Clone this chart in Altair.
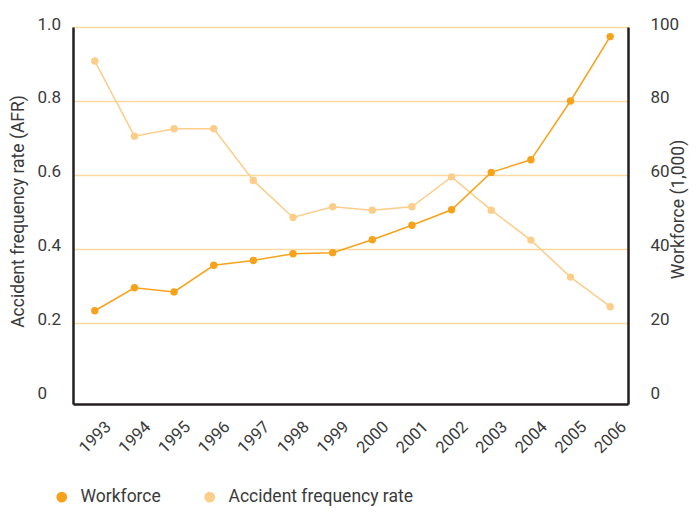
import altair as alt
import pandas as pd

years = [1993, 1994, 1995, 1996, 1997, 1998, 1999, 2000, 2001, 2002, 2003, 2004, 2005, 2006]
afr = [0.908, 0.705, 0.725, 0.725, 0.585, 0.485, 0.514, 0.505, 0.514, 0.595, 0.505, 0.424, 0.324, 0.244]
workforce = [23.3, 29.5, 28.4, 35.6, 36.9, 38.7, 39.0, 42.5, 46.4, 50.6, 60.7, 64.1, 80.0, 97.4]

series_names = ["Workforce", "Accident frequency rate"]
series_colors = ["#F7A21B", "#FDCD8A"]
afr_ticks = [0, 0.2, 0.4, 0.6, 0.8, 1.0]
wf_ticks = [0, 20, 40, 60, 80, 100]

FONT = "Roboto"
TXT = "#3a3a3a"

df_afr = pd.DataFrame({"year": years, "value": afr, "series": series_names[1]})
df_wf = pd.DataFrame({"year": years, "value": workforce, "series": series_names[0]})

x_enc = alt.X(
    "year:Q",
    scale=alt.Scale(domain=[1992.45, 2006.45], nice=False, zero=False),
    axis=alt.Axis(
        values=years, format="d", title=None, grid=False, ticks=False,
        labelAngle=-45, labelAlign="center", labelBaseline="middle",
        labelPadding=33, labelFontSize=16.5, labelFont=FONT, labelColor=TXT,
        domainColor="#231F20", domainWidth=2.5,
    ),
)

color_enc = alt.Color(
    "series:N",
    scale=alt.Scale(domain=series_names, range=series_colors),
    legend=alt.Legend(
        title=None, orient="none", direction="horizontal",
        legendX=-20, legendY=461, symbolType="circle", symbolSize=115,
        labelFontSize=17.5, labelFont=FONT, labelColor=TXT, labelOffset=10,
        labelLimit=400, columnPadding=40, padding=0,
    ),
)

y_afr = alt.Y(
    "value:Q",
    scale=alt.Scale(domain=[-0.019, 1.0], nice=False, zero=False),
    axis=alt.Axis(
        values=afr_ticks, labelExpr="datum.value == 0 ? '0' : format(datum.value, '.1f')",
        title="Accident frequency rate (AFR)", titleFont=FONT, titleFontSize=17.5,
        titleFontWeight="normal", titleColor=TXT, titleAngle=270, titleAlign="center",
        titleBaseline="middle", titleX=-55, titleY=184,
        labelAlign="left", labelPadding=36, labelOffset=-3, labelFontSize=17, labelFont=FONT,
        labelColor=TXT, ticks=False, grid=True, gridColor="#FDD9A0", gridWidth=1.6,
        gridOpacity={"condition": {"test": "datum.value == 0", "value": 0}, "value": 1},
        domainColor="#231F20", domainWidth=2.5, orient="left",
    ),
)

y_wf = alt.Y(
    "value:Q",
    scale=alt.Scale(domain=[-1.9, 100], nice=False, zero=False),
    axis=alt.Axis(
        values=wf_ticks, format="d",
        title="Workforce (1,000)", titleFont=FONT, titleFontSize=17.5,
        titleFontWeight="normal", titleColor=TXT, titleAngle=270, titleAlign="center",
        titleBaseline="middle", titleX=50, titleY=182,
        labelAlign="left", labelPadding=22, labelOffset=-3, labelFontSize=17, labelFont=FONT,
        labelColor=TXT, ticks=False, grid=False,
        domainColor="#231F20", domainWidth=2.5, orient="right",
    ),
)

afr_line = alt.Chart(df_afr).mark_line(strokeWidth=1.5, color=series_colors[1]).encode(x=x_enc, y=y_afr)
afr_pts = alt.Chart(df_afr).mark_circle(size=55, opacity=1).encode(x=x_enc, y=y_afr, color=color_enc)
wf_line = alt.Chart(df_wf).mark_line(strokeWidth=1.5, color=series_colors[0]).encode(x=x_enc, y=y_wf)
wf_pts = alt.Chart(df_wf).mark_circle(size=55, opacity=1).encode(x=x_enc, y=y_wf, color=color_enc)

chart = (
    alt.layer(alt.layer(afr_line, afr_pts), alt.layer(wf_line, wf_pts))
    .resolve_scale(y="independent")
    .properties(
        width=555, height=377,
        autosize=alt.AutoSizeParams(type="none"),
        padding={"left": 65, "top": 19, "right": 61, "bottom": 106},
    )
    .configure_view(stroke=None)
    .configure(font=FONT)
)

chart.save("out.html", embed_options={"renderer": "svg", "actions": False})
